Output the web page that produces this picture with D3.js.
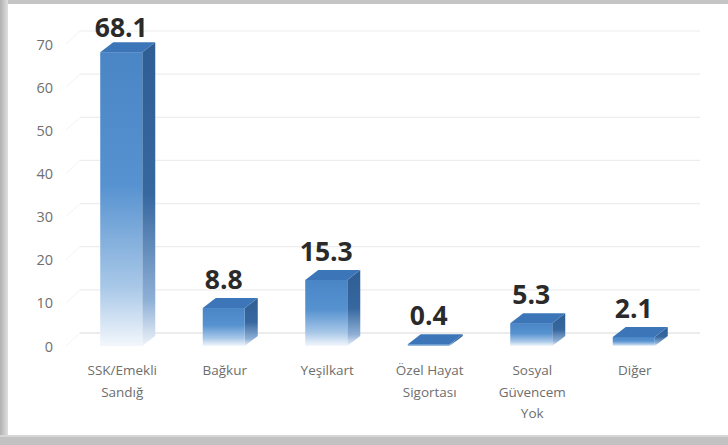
<!DOCTYPE html>
<html><head><meta charset="utf-8">
<script src="https://cdn.jsdelivr.net/npm/d3@7"></script>
<style>body{margin:0;background:#fff}svg{display:block}</style>
</head><body>
<svg id="c" width="728" height="445"></svg>
<script>
const categories = ["SSK/Emekli Sandığ", "Bağkur", "Yeşilkart", "Özel Hayat Sigortası", "Sosyal Güvencem Yok", "Diğer"];
const labelLines = [["SSK/Emekli","Sandığ"],["Bağkur"],["Yeşilkart"],["Özel Hayat","Sigortası"],["Sosyal","Güvencem","Yok"],["Diğer"]];
const values = [68.1, 8.8, 15.3, 0.4, 5.3, 2.1];
const yTicks = [0, 10, 20, 30, 40, 50, 60, 70];

const svg = d3.select("#c");
const W = 728, H = 445;
const dx = 13, dy = 10, wallDx = 14, wallDy = 13;

// frame
svg.append("rect").attr("width", W).attr("height", H).attr("fill", "#c4c4c4");
const defs = svg.append("defs");
const lg = defs.append("linearGradient").attr("id","leftEdge").attr("x1","0").attr("x2","1");
lg.append("stop").attr("offset","0").attr("stop-color","#b0b0b0");
lg.append("stop").attr("offset","1").attr("stop-color","#e0e0e0");
svg.append("rect").attr("x",0).attr("y",0).attr("width",8).attr("height",H).attr("fill","url(#leftEdge)");
svg.append("rect").attr("x",8).attr("y",4).attr("width",W-8).attr("height",431).attr("fill","#ffffff");
svg.append("rect").attr("x",0).attr("y",435).attr("width",W).attr("height",10).attr("fill","#c2c2c2");
svg.append("rect").attr("x",0).attr("y",435).attr("width",W).attr("height",2).attr("fill","#d6d6d6");

const y = d3.scaleLinear().domain([0, 70]).range([346, 44]);
const x = d3.scaleBand().domain(categories).range([70, 685]);
const barW = x.bandwidth() * 0.41;

// gridlines (3D walls)
const wallLeft = 66, wallRight = 700;
const grid = svg.append("g");
yTicks.forEach(t => {
  const yy = y(t);
  grid.append("path")
    .attr("d", `M${wallLeft},${yy} L${wallLeft+wallDx},${yy-wallDy}`)
    .attr("fill","none").attr("stroke", "#f3f3f3").attr("stroke-width", 1);
  grid.append("path")
    .attr("d", `M${wallLeft+wallDx},${yy-wallDy} L${wallRight},${yy-wallDy}`)
    .attr("fill","none")
    .attr("stroke", t === 0 ? "#dadada" : "#ededed")
    .attr("stroke-width", 1.2);
});

// y axis labels
const yAxis = d3.axisLeft(y).tickValues(yTicks).tickSize(0).tickPadding(0);
const ga = svg.append("g").attr("transform","translate(53,0)").call(yAxis);
ga.select(".domain").remove();
ga.selectAll("text").attr("font-family","'Open Sans', sans-serif").attr("font-size",14.5).attr("fill","#707070").attr("dy","0.35em");

// gradients
const fg = defs.append("linearGradient").attr("id","front").attr("x1","0").attr("y1","0").attr("x2","0").attr("y2","1");
fg.append("stop").attr("offset","0").attr("stop-color","#4a85c6");
fg.append("stop").attr("offset","0.45").attr("stop-color","#5692d0");
fg.append("stop").attr("offset","0.8").attr("stop-color","#a9c8e8");
fg.append("stop").attr("offset","1").attr("stop-color","#f3f7fc");
const sg = defs.append("linearGradient").attr("id","side").attr("x1","0").attr("y1","0").attr("x2","0").attr("y2","1");
sg.append("stop").attr("offset","0").attr("stop-color","#2f5e93");
sg.append("stop").attr("offset","0.5").attr("stop-color","#36679f");
sg.append("stop").attr("offset","0.85").attr("stop-color","#8fb0d6");
sg.append("stop").attr("offset","1").attr("stop-color","#eef3f9");

const bars = svg.append("g");
categories.forEach((c, i) => {
  const v = values[i];
  const cx = x(c) + x.bandwidth()/2;
  const l = cx - barW/2, r = cx + barW/2;
  const yt = y(v), y0 = y(0);
  const g = bars.append("g");
  // side
  g.append("path").attr("d", `M${r},${yt} L${r+dx},${yt-dy} L${r+dx},${y0-dy} L${r},${y0} Z`).attr("fill","url(#side)");
  // front
  g.append("rect").attr("x", l).attr("y", yt).attr("width", barW).attr("height", Math.max(y0-yt, 1.5)).attr("fill","url(#front)");
  // top
  g.append("path").attr("d", `M${l},${yt} L${l+dx},${yt-dy} L${r+dx},${yt-dy} L${r},${yt} Z`).attr("fill","#3d76b8");
  // value label
  svg.append("text").attr("x", cx).attr("y", Math.max(yt - 19, 37))
    .attr("text-anchor","middle").attr("font-family","'Open Sans', sans-serif")
    .attr("font-weight","bold").attr("font-size",26.5).attr("fill","#2a2a2a")
    .text(v.toFixed(1));
  // category label
  const tl = svg.append("text").attr("x", cx + 1).attr("y", 375)
    .attr("text-anchor","middle").attr("font-family","'Open Sans', sans-serif")
    .attr("font-size",13.5).attr("fill","#6e6e6e");
  labelLines[i].forEach((ln, k) => {
    tl.append("tspan").attr("x", cx + 1).attr("dy", k === 0 ? 0 : 21.5).text(ln);
  });
});
</script>
</body></html>
